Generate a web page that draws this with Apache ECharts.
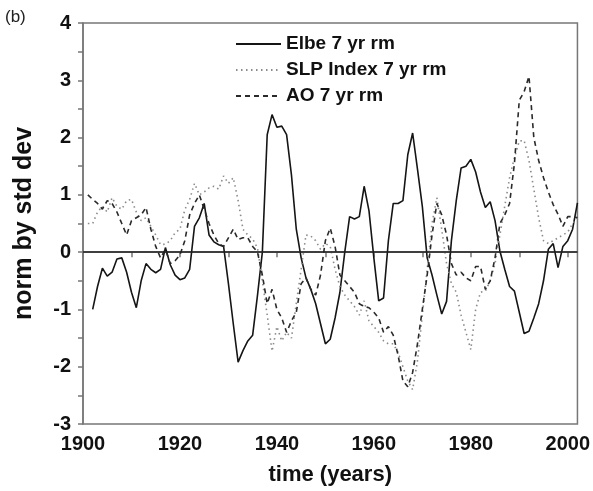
<!DOCTYPE html>
<html>
<head>
<meta charset="utf-8">
<script src="https://cdn.jsdelivr.net/npm/echarts@6/dist/echarts.min.js"></script>
<style>
  html, body { margin: 0; padding: 0; background: #fff; }
  #chart { width: 593px; height: 491px; }
</style>
</head>
<body>
<div id="chart"></div>
<script>
// yearly values 1901..2002, normalised by std dev
var firstYear = 1901;
var elbe = [null, -1.0, -0.6, -0.28, -0.42, -0.35, -0.12, -0.1, -0.35, -0.7,
  -0.97, -0.5, -0.2, -0.3, -0.36, -0.3, 0.08, -0.22, -0.4, -0.48,
  -0.45, -0.3, 0.45, 0.6, 0.85, 0.3, 0.18, 0.13, 0.1, -0.55,
  -1.25, -1.92, -1.72, -1.55, -1.45, -0.75, 0.0, 2.05, 2.4, 2.18,
  2.2, 2.05, 1.35, 0.4, -0.1, -0.45, -0.65, -0.9, -1.25, -1.6,
  -1.52, -1.15, -0.7, 0.0, 0.62, 0.58, 0.62, 1.15, 0.72, -0.1,
  -0.85, -0.8, 0.2, 0.85, 0.85, 0.9, 1.7, 2.08, 1.45, 0.8,
  -0.1, -0.4, -0.75, -1.08, -0.86, 0.2, 0.9, 1.47, 1.5, 1.62,
  1.4, 1.05, 0.78, 0.88, 0.55, 0.02, -0.3, -0.6, -0.68, -1.05,
  -1.42, -1.38, -1.15, -0.9, -0.5, 0.05, 0.15, -0.27, 0.1, 0.2,
  0.4, 0.86];
var slp = [0.5, 0.5, 0.7, 0.8, 0.7, 0.95, 0.8, 0.75, 0.9, 0.92,
  0.7, 0.55, 0.6, 0.45, 0.3, 0.13, 0.14, 0.2, 0.34, 0.4,
  0.74, 0.92, 1.2, 1.0, 1.05, 1.12, 1.15, 1.1, 1.33, 1.2,
  1.3, 0.9, 0.4, 0.3, 0.23, 0.07, -0.5, -1.1, -1.73, -1.3,
  -1.55, -1.4, -1.5, -0.9, -0.3, 0.3, 0.28, 0.2, 0.05, 0.15,
  0.1, -0.3, -0.6, -0.75, -0.85, -0.95, -1.1, -0.85, -1.2, -1.3,
  -1.4, -1.55, -1.6, -1.6, -1.75, -2.0, -2.25, -2.4, -1.9, -1.1,
  -0.3, 0.5, 0.95, 0.4, -0.2, -0.55, -0.7, -1.1, -1.4, -1.7,
  -1.0, -0.7, -0.68, -0.5, -0.2, 0.3, 0.8, 1.3, 1.65, 1.94,
  1.95, 1.6, 1.1, 0.6, 0.2, 0.15, 0.2, 0.25, 0.3, 0.35,
  0.5, 0.6];
var ao = [1.0, 0.92, 0.85, 0.75, 0.9, 0.85, 0.7, 0.5, 0.3, 0.55,
  0.6, 0.65, 0.78, 0.4, 0.1, -0.1, 0.05, -0.2, -0.15, -0.05,
  0.2, 0.65, 0.85, 1.0, 0.75, 0.5, 0.3, 0.15, 0.1, 0.25,
  0.4, 0.22, 0.25, 0.25, 0.1, 0.0, -0.4, -0.9, -0.65, -1.0,
  -1.15, -1.4, -1.2, -1.05, -0.55, -0.45, -0.65, -0.75, -0.4, 0.2,
  0.42, 0.1, -0.4, -0.5, -0.6, -0.7, -0.9, -0.95, -0.97, -1.05,
  -1.15, -1.4, -1.3, -1.45, -1.8, -2.25, -2.35, -2.1, -1.6, -1.0,
  -0.4, 0.3, 0.85, 0.65, 0.3, -0.2, -0.4, -0.35, -0.45, -0.5,
  -0.25, -0.25, -0.65, -0.5, -0.1, 0.5, 0.65, 0.85, 1.55, 2.65,
  2.8, 3.07, 2.0, 1.6, 1.3, 1.05, 0.83, 0.66, 0.45, 0.62,
  0.62, 0.6];
var seriesNames = ['Elbe 7 yr rm', 'SLP Index 7 yr rm', 'AO 7 yr rm'];
var xTicks = [1900, 1910, 1920, 1930, 1940, 1950, 1960, 1970, 1980, 1990, 2000];
var xLabels = [1900, 1920, 1940, 1960, 1980, 2000];

function pairs(arr) {
  var out = [];
  for (var i = 0; i < arr.length; i++) {
    if (arr[i] !== null) out.push([firstYear + i, arr[i]]);
  }
  return out;
}

var font = '"Liberation Sans", Arial, sans-serif';
var axisGray = '#777';

var chart = echarts.init(document.getElementById('chart'));
chart.setOption({
  animation: false,
  backgroundColor: '#fff',
  grid: { left: 83, right: 14, top: 23, bottom: 67, show: true, borderColor: axisGray, borderWidth: 1.5 },
  graphic: [{
    type: 'text', left: 5, top: 9,
    style: { text: '(b)', font: '17px ' + font, fill: '#222' }
  }],
  legend: {
    orient: 'vertical', left: 230, top: 29,
    itemWidth: 45, itemHeight: 20, itemGap: 6,
    selectedMode: false,
    itemStyle: { opacity: 0 },
    textStyle: { fontFamily: font, fontWeight: 'bold', fontSize: 19, color: '#111', lineHeight: 20 },
    data: seriesNames
  },
  xAxis: {
    type: 'value', min: 1900, max: 2002,
    name: 'time (years)', nameLocation: 'middle', nameGap: 40,
    nameTextStyle: { fontFamily: font, fontWeight: 'bold', fontSize: 22, color: '#111' },
    axisLine: { lineStyle: { color: axisGray, width: 1.5 } },
    axisTick: { length: 5, customValues: xTicks, lineStyle: { color: axisGray, width: 1.5 } },
    splitLine: { show: false },
    axisLabel: {
      margin: 10, customValues: xLabels, fontFamily: font, fontWeight: 'bold', fontSize: 20, color: '#111',
      formatter: function (v) { return String(v); }
    }
  },
  yAxis: {
    type: 'value', min: -3, max: 4, interval: 0.5,
    name: 'norm by std dev', nameLocation: 'middle', nameGap: 46,
    nameTextStyle: { fontFamily: font, fontWeight: 'bold', fontSize: 25, color: '#111' },
    axisLine: { show: true, lineStyle: { color: axisGray, width: 1.5 } },
    axisTick: { show: true, length: 5, lineStyle: { color: axisGray, width: 1.5 } },
    splitLine: { show: false },
    axisLabel: {
      margin: 12, fontFamily: font, fontWeight: 'bold', fontSize: 20, color: '#111',
      formatter: function (v) { return Number.isInteger(v) ? String(v) : ''; }
    }
  },
  series: [
    {
      name: seriesNames[0], type: 'line', symbol: 'none', data: pairs(elbe),
      lineStyle: { color: '#151515', width: 1.6 }, itemStyle: { color: '#151515' },
      markLine: {
        silent: true, symbol: 'none', label: { show: false },
        lineStyle: { color: '#222', width: 1.5, type: 'solid' },
        data: [{ yAxis: 0 }]
      }
    },
    {
      name: seriesNames[1], type: 'line', symbol: 'none', data: pairs(slp),
      lineStyle: { color: '#8a8a8a', width: 1.6, type: [1.5, 3.5] }, itemStyle: { color: '#8a8a8a' }
    },
    {
      name: seriesNames[2], type: 'line', symbol: 'none', data: pairs(ao),
      lineStyle: { color: '#2a2a2a', width: 1.6, type: [5, 4] }, itemStyle: { color: '#2a2a2a' }
    }
  ]
});
</script>
</body>
</html>
